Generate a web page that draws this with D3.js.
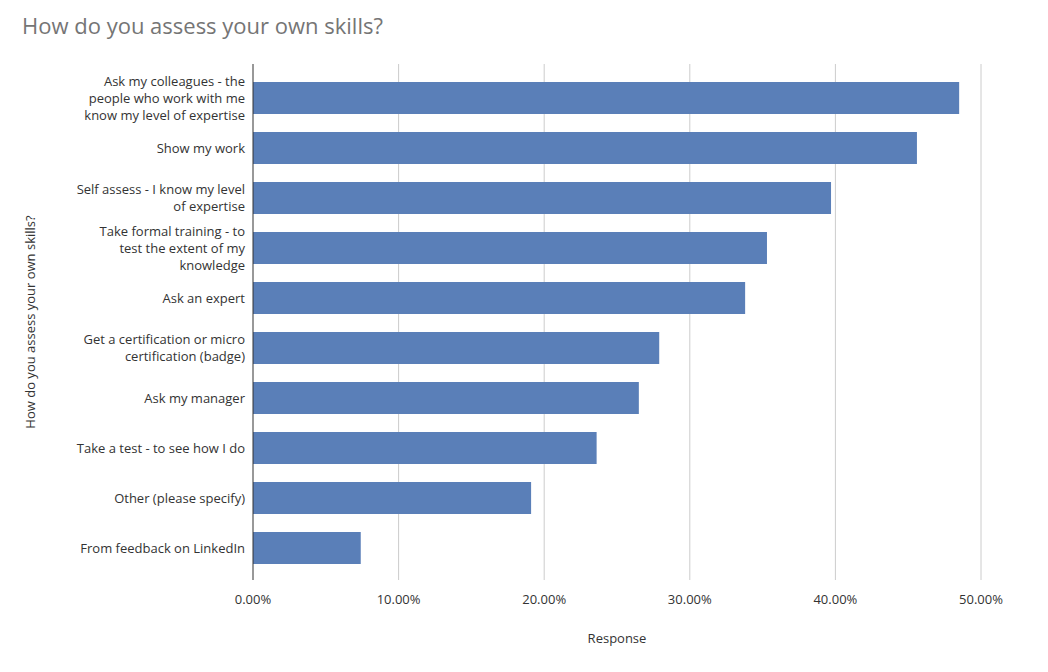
<!DOCTYPE html>
<html><head><meta charset="utf-8">
<script src="https://cdn.jsdelivr.net/npm/d3@7"></script>
<style>body{margin:0;background:#fff;font-family:"Open Sans",sans-serif;}</style>
</head><body>
<svg id="chart" width="1048" height="672"></svg>
<script>
const categories = [
    ["Ask my colleagues - the", "people who work with me", "know my level of expertise"],
    ["Show my work"],
    ["Self assess - I know my level", "of expertise"],
    ["Take formal training - to", "test the extent of my", "knowledge"],
    ["Ask an expert"],
    ["Get a certification or micro", "certification (badge)"],
    ["Ask my manager"],
    ["Take a test - to see how I do"],
    ["Other (please specify)"],
    ["From feedback on LinkedIn"]
];
const values = [48.5, 45.6, 39.7, 35.3, 33.8, 27.9, 26.5, 23.6, 19.1, 7.4];
const ticks = [0, 10, 20, 30, 40, 50];

let svg = d3.select("#chart");
let plotLeft = 253, plotRight = 981, plotTop = 64, plotBottom = 580;

let x = d3.scaleLinear().domain([0, 50]).range([plotLeft, plotRight]);
let y = d3.scaleBand().domain(d3.range(categories.length)).range([73, 573]).paddingInner(0.36).paddingOuter(0.18);

// grid
svg.append("g").selectAll("line").data(ticks.slice(1)).enter().append("line")
    .attr("x1", d => x(d)).attr("x2", d => x(d))
    .attr("y1", plotTop).attr("y2", plotBottom)
    .attr("stroke", "#cccccc").attr("stroke-width", 1);

// bars
svg.append("g").selectAll("rect").data(values).enter().append("rect")
    .attr("x", x(0))
    .attr("y", (d, i) => y(i))
    .attr("width", d => x(d) - x(0))
    .attr("height", y.bandwidth())
    .attr("fill", "#5a7fb8");

// axis line
svg.append("line").attr("x1", plotLeft).attr("x2", plotLeft).attr("y1", plotTop).attr("y2", plotBottom)
    .attr("stroke", "#333").attr("stroke-width", 1);

// x tick labels
svg.append("g").selectAll("text").data(ticks).enter().append("text")
    .attr("x", d => x(d)).attr("y", 604)
    .attr("text-anchor", "middle").attr("font-size", 13).attr("fill", "#333")
    .text(d => d.toFixed(2) + "%");

// category labels
categories.forEach((lines, i) => {
    let cy = y(i) + y.bandwidth() / 2;
    let lh = 17;
    let t = svg.append("text").attr("text-anchor", "end").attr("font-size", 13).attr("fill", "#333");
    lines.forEach((l, j) => {
        t.append("tspan").attr("x", 245)
            .attr("y", cy + (j - (lines.length - 1) / 2) * lh + 4.5)
            .text(l);
    });
});

// titles
svg.append("text").attr("x", 22).attr("y", 34).attr("font-size", 22).attr("fill", "#757575")
    .text("How do you assess your own skills?");
svg.append("text").attr("x", 617).attr("y", 643).attr("text-anchor", "middle")
    .attr("font-size", 13).attr("fill", "#333").text("Response");
svg.append("text").attr("transform", "translate(35,322) rotate(-90)").attr("text-anchor", "middle")
    .attr("font-size", 13).attr("fill", "#333").text("How do you assess your own skills?");
</script>
</body></html>
